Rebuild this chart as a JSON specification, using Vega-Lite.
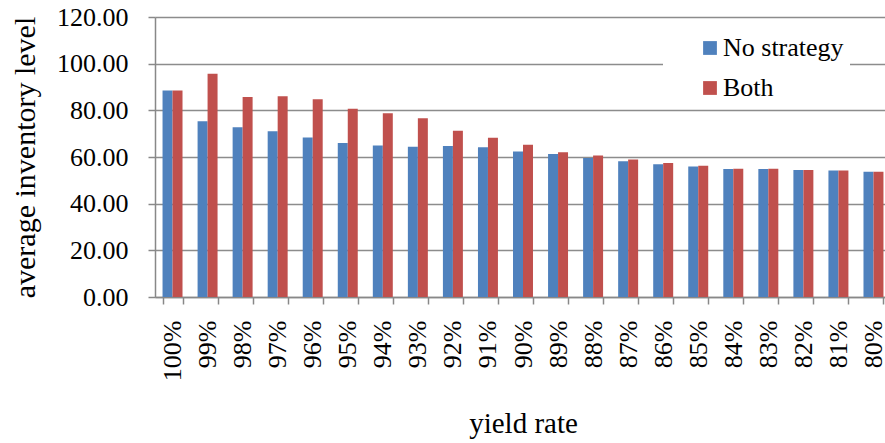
{
  "$schema": "https://vega.github.io/schema/vega-lite/v6.json",
  "autosize": {"type": "none"},
  "padding": {"left": 155, "top": 17, "right": 0, "bottom": 146},
  "width": 736,
  "height": 280,
  "background": "white",
  "config": {
    "font": "Times New Roman, Liberation Serif, serif",
    "view": {"stroke": null},
    "axis": {"labelColor": "black", "titleColor": "black", "titleFontWeight": "normal", "labelFont": "Times New Roman, Liberation Serif, serif", "titleFont": "Times New Roman, Liberation Serif, serif"},
    "legend": {"labelFont": "Times New Roman, Liberation Serif, serif"}
  },
  "data": {
    "values": [
      {"rate": "100%", "series": "No strategy", "value": 88.5},
      {"rate": "100%", "series": "Both", "value": 88.5},
      {"rate": "99%", "series": "No strategy", "value": 75.3},
      {"rate": "99%", "series": "Both", "value": 95.7},
      {"rate": "98%", "series": "No strategy", "value": 72.7},
      {"rate": "98%", "series": "Both", "value": 85.7},
      {"rate": "97%", "series": "No strategy", "value": 71.0},
      {"rate": "97%", "series": "Both", "value": 86.0},
      {"rate": "96%", "series": "No strategy", "value": 68.4},
      {"rate": "96%", "series": "Both", "value": 84.7},
      {"rate": "95%", "series": "No strategy", "value": 66.0},
      {"rate": "95%", "series": "Both", "value": 80.7},
      {"rate": "94%", "series": "No strategy", "value": 64.9},
      {"rate": "94%", "series": "Both", "value": 78.7},
      {"rate": "93%", "series": "No strategy", "value": 64.4},
      {"rate": "93%", "series": "Both", "value": 76.6},
      {"rate": "92%", "series": "No strategy", "value": 64.7},
      {"rate": "92%", "series": "Both", "value": 71.3},
      {"rate": "91%", "series": "No strategy", "value": 64.2},
      {"rate": "91%", "series": "Both", "value": 68.3},
      {"rate": "90%", "series": "No strategy", "value": 62.4},
      {"rate": "90%", "series": "Both", "value": 65.2},
      {"rate": "89%", "series": "No strategy", "value": 61.3},
      {"rate": "89%", "series": "Both", "value": 62.0},
      {"rate": "88%", "series": "No strategy", "value": 59.6},
      {"rate": "88%", "series": "Both", "value": 60.6},
      {"rate": "87%", "series": "No strategy", "value": 58.2},
      {"rate": "87%", "series": "Both", "value": 58.9},
      {"rate": "86%", "series": "No strategy", "value": 56.9},
      {"rate": "86%", "series": "Both", "value": 57.4},
      {"rate": "85%", "series": "No strategy", "value": 55.9},
      {"rate": "85%", "series": "Both", "value": 56.3},
      {"rate": "84%", "series": "No strategy", "value": 54.9},
      {"rate": "84%", "series": "Both", "value": 55.0},
      {"rate": "83%", "series": "No strategy", "value": 54.9},
      {"rate": "83%", "series": "Both", "value": 55.0},
      {"rate": "82%", "series": "No strategy", "value": 54.4},
      {"rate": "82%", "series": "Both", "value": 54.4},
      {"rate": "81%", "series": "No strategy", "value": 54.2},
      {"rate": "81%", "series": "Both", "value": 54.2},
      {"rate": "80%", "series": "No strategy", "value": 53.7},
      {"rate": "80%", "series": "Both", "value": 53.7}
    ]
  },
  "mark": {"type": "bar"},
  "encoding": {
    "x": {
      "field": "rate",
      "type": "nominal",
      "sort": null,
      "scale": {"paddingInner": 0.43, "paddingOuter": 0.215},
      "axis": {
        "title": "yield rate",
        "titleFontSize": 29,
        "titlePadding": 29,
        "labelFontSize": 26,
        "labelAngle": 270,
        "labelPadding": 16,
        "tickBand": "extent",
        "tickSize": 7,
        "tickColor": "#888888",
        "tickWidth": 1.5,
        "domainColor": "#888888",
        "domainWidth": 1.5,
        "grid": false
      }
    },
    "xOffset": {"field": "series", "type": "nominal", "sort": ["No strategy", "Both"], "scale": {"paddingInner": 0}},
    "y": {
      "field": "value",
      "type": "quantitative",
      "scale": {"domain": [0, 120]},
      "axis": {
        "title": "average inventory level",
        "titleFontSize": 30,
        "titlePadding": 16,
        "labelFontSize": 26,
        "format": ".2f",
        "values": [0, 20, 40, 60, 80, 100, 120],
        "tickSize": 7,
        "tickColor": "#888888",
        "tickWidth": 1.5,
        "labelPadding": 20,
        "domainColor": "#888888",
        "domainWidth": 1.5,
        "grid": true,
        "gridColor": "#8c8c8c",
        "gridWidth": 1.3
      }
    },
    "color": {
      "field": "series",
      "type": "nominal",
      "sort": ["No strategy", "Both"],
      "scale": {"domain": ["No strategy", "Both"], "range": ["#4F81BD", "#C0504D"]},
      "legend": {
        "title": null,
        "orient": "none",
        "legendX": 508,
        "legendY": 12,
        "fillColor": "white",
        "padding": 6,
        "symbolOffset": 28,
        "symbolType": "square",
        "symbolSize": 190,
        "symbolStrokeWidth": 0,
        "labelFontSize": 26,
        "labelColor": "black",
        "labelOffset": 0,
        "rowPadding": 14
      }
    }
  }
}
